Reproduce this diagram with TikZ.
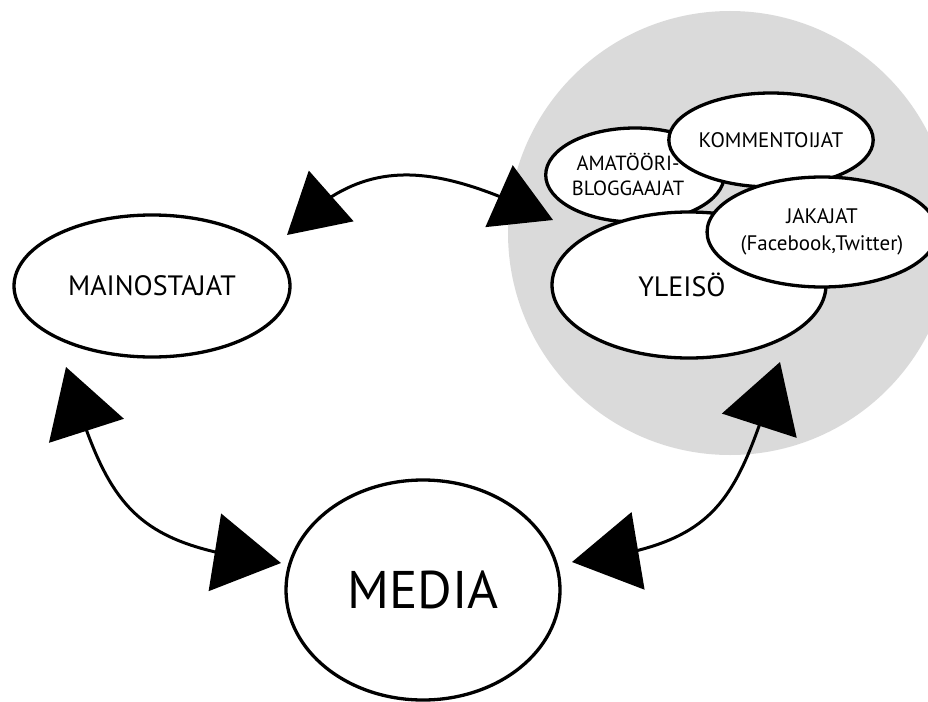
\documentclass[tikz,border=0pt]{standalone}
\usepackage{fontspec}
\setmainfont{PT Sans}
\usetikzlibrary{shapes.geometric,arrows.meta,bending}
\definecolor{circlegray}{RGB}{218,218,218}
\tikzset{
  bubble/.style={ellipse, draw=black, fill=white, line width=3.3pt, inner sep=0pt, align=center},
  link/.style={line width=3pt, draw=black},
  bighead/.tip={Triangle[length=67pt,width=78pt,flex]},
  smallhead/.tip={Triangle[length=59pt,width=67pt,flex]},
}
\begin{document}
\begin{tikzpicture}[x=1pt,y=-1pt]
\useasboundingbox (0,0) rectangle (928,701);
\clip (0,0) rectangle (928,701);
% audience sphere
\fill[circlegray] (730,233) circle (222);
% nodes
\node[bubble, minimum width=276pt, minimum height=142pt, font=\fontsize{28}{32}\selectfont] (mainostajat) at (152,286) {MAINOSTAJAT};
\node[bubble, minimum width=274pt, minimum height=220pt, font=\fontsize{53}{60}\selectfont] (media) at (423,590) {MEDIA};
\node[bubble, minimum width=172pt, minimum height=94pt, font=\fontsize{20.5}{25}\selectfont] (amatoori) at (635,175) {AMATÖÖRI-\hspace*{14pt}\\BLOGGAAJAT\hspace*{14pt}};
\node[bubble, minimum width=174pt, minimum height=94pt, font=\fontsize{21}{25}\selectfont] (kommentoijat) at (771,140) {KOMMENTOIJAT};
\node[bubble, minimum width=274pt, minimum height=146pt, font=\fontsize{28}{32}\selectfont] (yleiso) at (689,285) {YLEISÖ\hspace*{14pt}};
\node[bubble, minimum width=200pt, minimum height=110pt, font=\fontsize{21}{27}\selectfont] (jakajat) at (822,232) {JAKAJAT\\(Facebook,Twitter)};
% arrow tips
\coordinate (mtop) at (287,235);
\coordinate (ytop) at (553,220);
\coordinate (mbot) at (66,367);
\coordinate (mleft) at (281,563);
\coordinate (ybot) at (780,362);
\coordinate (mright) at (572,562);
% connectors
\draw[link, {smallhead}-{smallhead}] (mtop) .. controls (368,146) and (445,169) .. (ytop);
\draw[link, {bighead}-{bighead}] (mbot) .. controls (109,511) and (132,545) .. (mleft);
\draw[link, {bighead}-{bighead}] (mright) .. controls (721,544) and (735,505) .. (ybot);
\end{tikzpicture}
\end{document}
